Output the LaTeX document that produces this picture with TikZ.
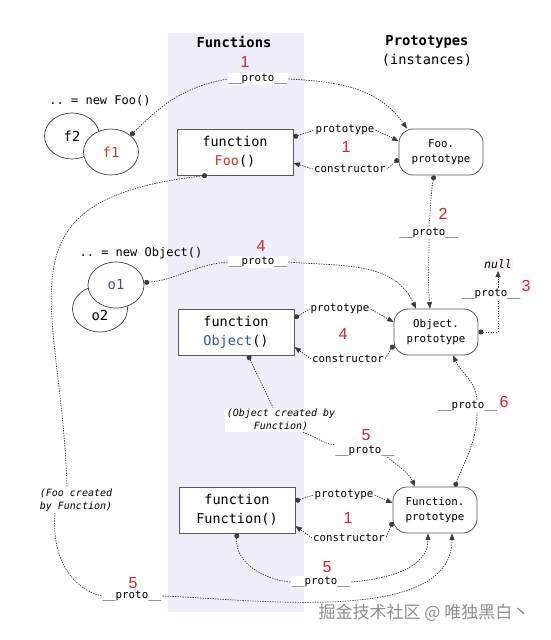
\documentclass[tikz,border=0pt]{standalone}
\usepackage{fontspec}
\setmainfont{DejaVu Sans}
\setmonofont{DejaVu Sans Mono}
\newfontfamily\numfont{Liberation Sans}
\newfontfamily\cjkfont{Noto Sans CJK SC}
\usetikzlibrary{arrows.meta,shapes.geometric}
\definecolor{bandcol}{RGB}{238,238,250}
\definecolor{numred}{RGB}{226,32,40}
\definecolor{foored}{RGB}{206,60,40}
\definecolor{objblue}{RGB}{50,80,190}
\definecolor{linecol}{RGB}{60,60,60}
\definecolor{nullbg}{RGB}{250,244,244}

\begin{document}
\begin{tikzpicture}[x=1pt,y=-1pt,
  fnbox/.style={draw=black!65,line width=0.8pt,fill=white,minimum width=116pt,minimum height=46pt,align=center,font=\ttfamily\fontsize{13.5}{19}\selectfont},
  protobox/.style={draw=black!65,line width=0.8pt,fill=white,rounded corners=14pt,minimum width=84pt,minimum height=46pt,align=center,font=\ttfamily\fontsize{10.8}{15}\selectfont},
  inst/.style={ellipse,draw=black!75,line width=0.7pt,fill=white,minimum width=55pt,minimum height=46pt,inner sep=0pt,font=\ttfamily\fontsize{13.8}{16}\selectfont},
  lbl/.style={fill=white,inner sep=1pt,font=\ttfamily\fontsize{10.8}{13}\selectfont},
  num/.style={text=numred,inner sep=0pt,font=\numfont\fontsize{16}{18}\selectfont},
  note/.style={inner sep=1.5pt,font=\ttfamily\itshape\fontsize{10}{12.5}\selectfont},
  link/.style={draw=linecol,line width=0.7pt,dash pattern=on 1.4pt off 1.1pt},
  ptr/.style={link,-{Triangle[length=6.5pt,width=5pt]}},
  dot/.style={link,{Circle[length=5pt]}-},
]
\useasboundingbox (0,0) rectangle (551,640);
\fill[bandcol] (168,33) rectangle (304,612);

\node[font=\ttfamily\bfseries\fontsize{13.8}{16}\selectfont] (hfun) at (234,42) {Functions};
\node[font=\ttfamily\bfseries\fontsize{13.8}{16}\selectfont] (hproto) at (427,42) {Prototypes};
\node[font=\ttfamily\fontsize{13.6}{16}\selectfont] (hinst) at (427,60) {(instances)};

\node[font=\ttfamily\fontsize{12}{14}\selectfont] (newfoo) at (100,101) {.. = new Foo()};
\node[inst] (f2) at (72,136) {f2};
\node[inst,text=foored] (f1) at (111,152) {f1};
\node[fnbox] (foo) at (235,152) {function\\\textcolor{foored}{Foo}()};
\node[protobox] (foop) at (441,152) {Foo.\\prototype};

\node[font=\ttfamily\fontsize{12}{14}\selectfont] (newobj) at (141,253) {.. = new Object()};
\node[inst] (o2) at (100,309) {\raisebox{-11pt}[0pt][0pt]{o2}};
\node[inst,text=objblue,minimum width=56pt] (o1) at (116,285) {o1};
\node[fnbox] (obj) at (236,332) {function\\\textcolor{objblue}{Object}()};
\node[protobox] (objp) at (436,332) {Object.\\prototype};

\node[fnbox] (fun) at (237,510) {function\\Function()};
\node[protobox] (fnp) at (435,510) {Function.\\prototype};

\node[num] (n1a) at (245,62) {1};
\node[lbl] (pr1) at (258,79) {\_\_proto\_\_};
\draw[dot] (f1.40) to[out=45,in=190] (pr1.west);
\draw[ptr] (pr1.east) to[out=-3,in=125] ([xshift=-34]foop.north);

\node[lbl] (fpl) at (345,130) {prototype};
\node[num] (n1b) at (346,147) {1};
\node[lbl] (fcl) at (350,169) {constructor};
\draw[dot] ([yshift=15]foo.east) -- (fpl.west);
\draw[ptr] (fpl.east) -- ([yshift=11]foop.west);
\draw[dot] ([yshift=-7]foop.west) -- (fcl.east);
\draw[ptr] (fcl.west) -- ([yshift=-11]foo.east);

\node[num] (n2) at (443,214) {2};
\node[lbl] (pr2) at (429,233) {\_\_proto\_\_};
\draw[dot] ([xshift=-7]foop.south) to[out=-100,in=85] (pr2.north);
\draw[ptr] (pr2.south) to[out=-90,in=95] ([xshift=-6]objp.north);

\node[num] (n4a) at (261,246) {4};
\node[lbl] (pr4) at (258,262) {\_\_proto\_\_};
\draw[dot] (o1.5) to[out=5,in=185] (pr4.west);
\draw[ptr] (pr4.east) to[out=-5,in=115] ([xshift=-20]objp.north);

\node[lbl] (opl) at (340,309) {prototype};
\node[num] (n4b) at (343,334) {4};
\node[lbl] (ocl) at (348,359) {constructor};
\draw[dot] ([yshift=14]obj.east) -- (opl.west);
\draw[ptr] (opl.east) -- ([yshift=10]objp.west);
\draw[dot] ([yshift=-13]objp.west) -- (ocl.east);
\draw[ptr] (ocl.west) -- ([yshift=-15]obj.east);

\node[fill=nullbg,inner sep=2pt,font=\ttfamily\itshape\fontsize{11.6}{13}\selectfont] (nul) at (498,264) {null};
\node[lbl] (pr3) at (491,294) {\_\_proto\_\_};
\node[num] (n3) at (526,286) {3};
\draw[dot] (objp.east) -| (pr3.south -| nul.south);
\draw[ptr] (pr3.north -| nul.south) -- (nul.south);

\node[note,fill=white,align=center] (ocb) at (281,420) {(Object created by\\Function)};
\node[num] (n5a) at (366,435) {5};
\node[lbl] (pr5a) at (365,451) {\_\_proto\_\_};
\draw[dot] ([xshift=12]obj.south) -- ([xshift=-8]ocb.north);
\draw[link] ([xshift=22]ocb.south) to[out=-15,in=175] (pr5a.north west);
\draw[ptr] ([xshift=-8]pr5a.south east) to[out=-40,in=115] ([xshift=-20]fnp.north);

\node[lbl] (pr6) at (468,406) {\_\_proto\_\_};
\node[num] (n6) at (504,402) {6};
\draw[dot] ([xshift=20]fnp.north) to[out=70,in=-90] ([xshift=9]pr6.south);
\draw[ptr] ([xshift=9]pr6.north) to[out=95,in=-65] ([xshift=17]objp.south);

\node[lbl] (fnpl) at (344,495) {prototype};
\node[num] (n1c) at (348,518) {1};
\node[lbl] (fncl) at (349,538) {constructor};
\draw[dot] ([yshift=9]fun.east) -- (fnpl.west);
\draw[ptr] (fnpl.east) -- ([yshift=7]fnp.west);
\draw[dot] ([yshift=-12]fnp.west) -- (fncl.east);
\draw[ptr] (fncl.west) -- ([yshift=-16]fun.east);

\node[num] (n5b) at (327,567) {5};
\node[lbl] (pr5b) at (321,582) {\_\_proto\_\_};
\draw[dot] (fun.south) to[out=-95,in=175] (pr5b.west);
\draw[ptr] (pr5b.east) to[out=5,in=-90] ([xshift=-7]fnp.south);

\node[note,align=left] (fcb) at (76,500) {(Foo created\\by Function)};
\node[num] (n5c) at (133,583) {5};
\node[lbl] (pr5c) at (132,596) {\_\_proto\_\_};
\draw[dot] ([xshift=-28]foo.south) .. controls (-10,200) and (62,300) .. ([xshift=-9]fcb.north);
\draw[link] ([xshift=-21]fcb.south) to[out=-95,in=165] (pr5c.west);
\draw[ptr] (pr5c.east) to[out=-2,in=-90,looseness=0.8] ([xshift=17]fnp.south);

\node[text=black!45,font=\cjkfont\fontsize{17}{19}\selectfont] (wm) at (424,613) {掘金技术社区 @ 唯独黑白丶};
\end{tikzpicture}
\end{document}
